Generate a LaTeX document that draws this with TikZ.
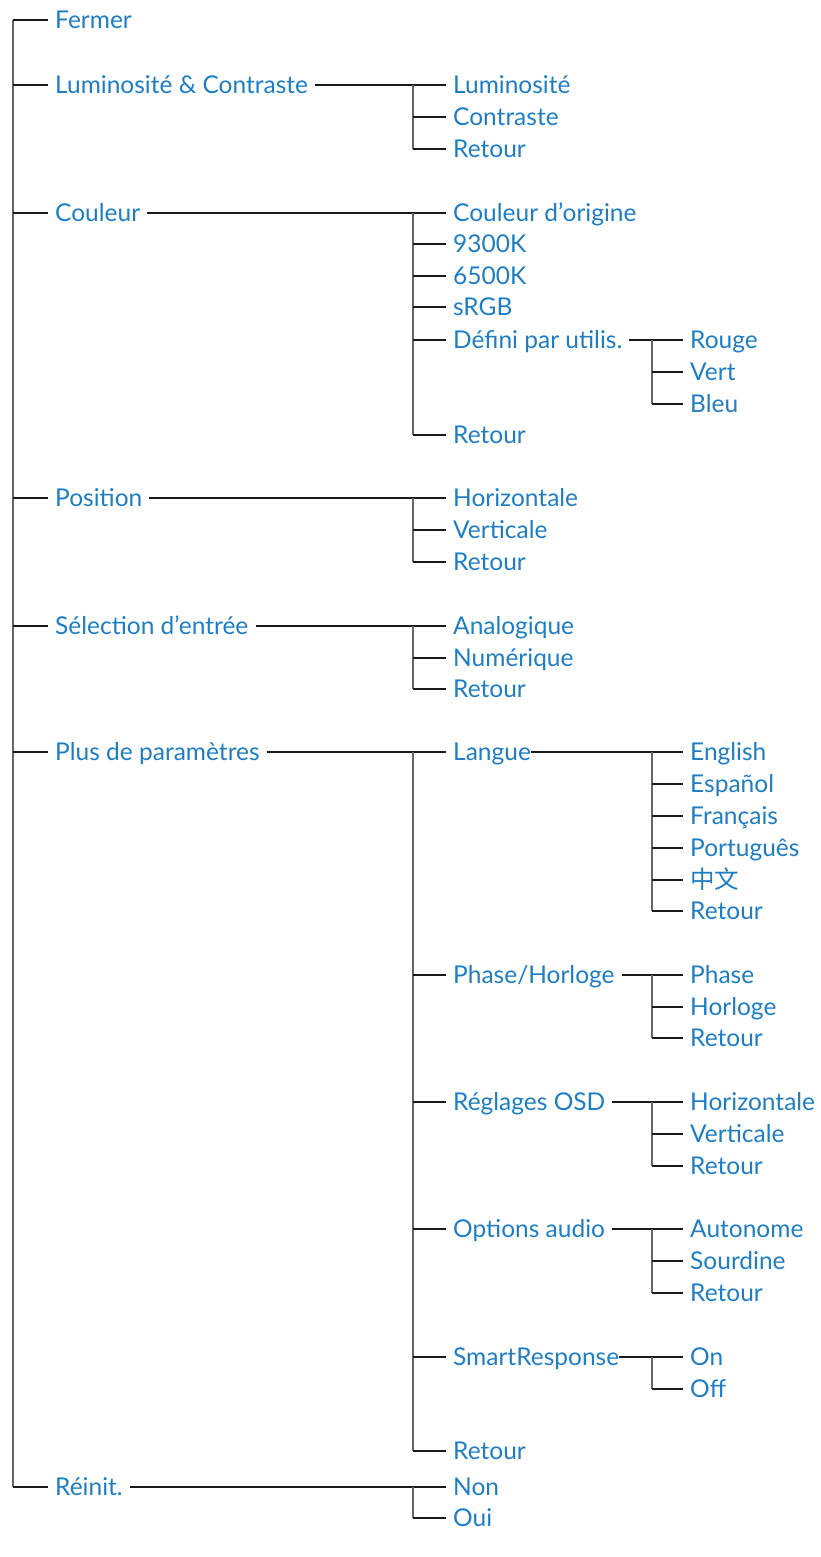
\documentclass[tikz,border=0pt]{standalone}
\usepackage{fontspec}
\setmainfont{Lato}
\newfontfamily\cjkfont{Noto Sans CJK SC}
\usepackage{tikz}
\usetikzlibrary{positioning}
\definecolor{menublue}{RGB}{30,125,195}
\tikzstyle{item} = [anchor=west, text=menublue, inner xsep=7pt, inner ysep=0pt,
    text height=17.5pt, text depth=0pt, font=\fontsize{24.5}{28}\selectfont]
\tikzstyle{hline} = [draw, black!90, line width=2pt]
\tikzstyle{vline} = [draw, black!60, line width=2.6pt]

\begin{document}
\begin{tikzpicture}[x=1pt, y=-1pt]
		\useasboundingbox (0,0) rectangle (820,1557);
		% main menu
		\node [item] (fermer) at (48,20) {Fermer};
		\node [item] (lumcon) at (48,85) {Luminosité \& Contraste};
		\node [item] (couleur) at (48,213) {Couleur};
		\node [item] (position) at (48,498) {Position};
		\node [item] (selection) at (48,626) {Sélection d'entrée};
		\node [item] (plus) at (48,752) {Plus de paramètres};
		\node [item] (reinit) at (48,1487) {Réinit.};

		% second level
		\node [item] (lum) at (446,85) {Luminosité};
		\node [item] (con) at (446,117) {Contraste};
		\node [item] (lumret) at (446,149) {Retour};
		\node [item] (orig) at (446,213) {Couleur d'origine};
		\node [item] (k93) at (446,244) {9300K};
		\node [item] (k65) at (446,276) {6500K};
		\node [item] (srgb) at (446,307) {sRGB};
		\node [item] (defini) at (446,340) {Défini par utilis.};
		\node [item] (coulret) at (446,435) {Retour};
		\node [item] (horiz) at (446,498) {Horizontale};
		\node [item] (vert) at (446,530) {Verticale};
		\node [item] (posret) at (446,562) {Retour};
		\node [item] (analog) at (446,626) {Analogique};
		\node [item] (numer) at (446,658) {Numérique};
		\node [item] (selret) at (446,689) {Retour};
		\node [item] (langue) at (446,752) {Langue};
		\node [item] (phase) at (446,975) {Phase/Horloge};
		\node [item] (osd) at (446,1102) {Réglages OSD};
		\node [item] (audio) at (446,1229) {Options audio};
		\node [item] (smart) at (446,1357) {SmartResponse};
		\node [item] (plusret) at (446,1451) {Retour};
		\node [item] (non) at (446,1487) {Non};
		\node [item] (oui) at (446,1518) {Oui};

		% third level
		\node [item] (rouge) at (683,340) {Rouge};
		\node [item] (vertc) at (683,372) {Vert};
		\node [item] (bleu) at (683,404) {Bleu};
		\node [item] (english) at (683,752) {English};
		\node [item] (espanol) at (683,784) {Español};
		\node [item] (francais) at (683,816) {Français};
		\node [item] (portugues) at (683,848) {Português};
		\node [item] (chinois) at (683,880) {\cjkfont 中文};
		\node [item] (langret) at (683,911) {Retour};
		\node [item] (ph) at (683,975) {Phase};
		\node [item] (horloge) at (683,1007) {Horloge};
		\node [item] (phret) at (683,1038) {Retour};
		\node [item] (osdh) at (683,1102) {Horizontale};
		\node [item] (osdv) at (683,1134) {Verticale};
		\node [item] (osdret) at (683,1166) {Retour};
		\node [item] (autonome) at (683,1229) {Autonome};
		\node [item] (sourdine) at (683,1261) {Sourdine};
		\node [item] (audret) at (683,1293) {Retour};
		\node [item] (on) at (683,1357) {On};
		\node [item] (off) at (683,1389) {Off};

		% bus columns
		\coordinate (trunk) at (13,20);
		\coordinate (bus2) at (413,0);
		\coordinate (bus3) at (652,0);

		% trunk
		\path[vline] (trunk) -- (trunk |- reinit.west);
		\foreach \n in {fermer,lumcon,couleur,position,selection,plus,reinit}
			\path[hline] (trunk |- \n.west) -- (\n.west);

		% parent to first child
		\foreach \a/\b in {lumcon/lum,couleur/orig,position/horiz,selection/analog,plus/langue,reinit/non,
				defini/rouge,phase/ph,osd/osdh,audio/autonome}
			\path[hline] (\a.east) -- (\b.west);
		\path[hline] ([xshift=-7pt]langue.east) -- (english.west);
		\path[hline] ([xshift=-7pt]smart.east) -- (on.west);

		% second level buses
		\path[vline] (bus2 |- lum.west) -- (bus2 |- lumret.west);
		\path[vline] (bus2 |- orig.west) -- (bus2 |- coulret.west);
		\path[vline] (bus2 |- horiz.west) -- (bus2 |- posret.west);
		\path[vline] (bus2 |- analog.west) -- (bus2 |- selret.west);
		\path[vline] (bus2 |- langue.west) -- (bus2 |- plusret.west);
		\path[vline] (bus2 |- non.west) -- (bus2 |- oui.west);
		\foreach \n in {con,lumret,k93,k65,srgb,defini,coulret,vert,posret,numer,selret,
				phase,osd,audio,smart,plusret,oui}
			\path[hline] (bus2 |- \n.west) -- (\n.west);

		% third level buses
		\path[vline] (bus3 |- rouge.west) -- (bus3 |- bleu.west);
		\path[vline] (bus3 |- english.west) -- (bus3 |- langret.west);
		\path[vline] (bus3 |- ph.west) -- (bus3 |- phret.west);
		\path[vline] (bus3 |- osdh.west) -- (bus3 |- osdret.west);
		\path[vline] (bus3 |- autonome.west) -- (bus3 |- audret.west);
		\path[vline] (bus3 |- on.west) -- (bus3 |- off.west);
		\foreach \n in {vertc,bleu,espanol,francais,portugues,chinois,langret,horloge,phret,
				osdv,osdret,sourdine,audret,off}
			\path[hline] (bus3 |- \n.west) -- (\n.west);
	\end{tikzpicture}
\end{document}
